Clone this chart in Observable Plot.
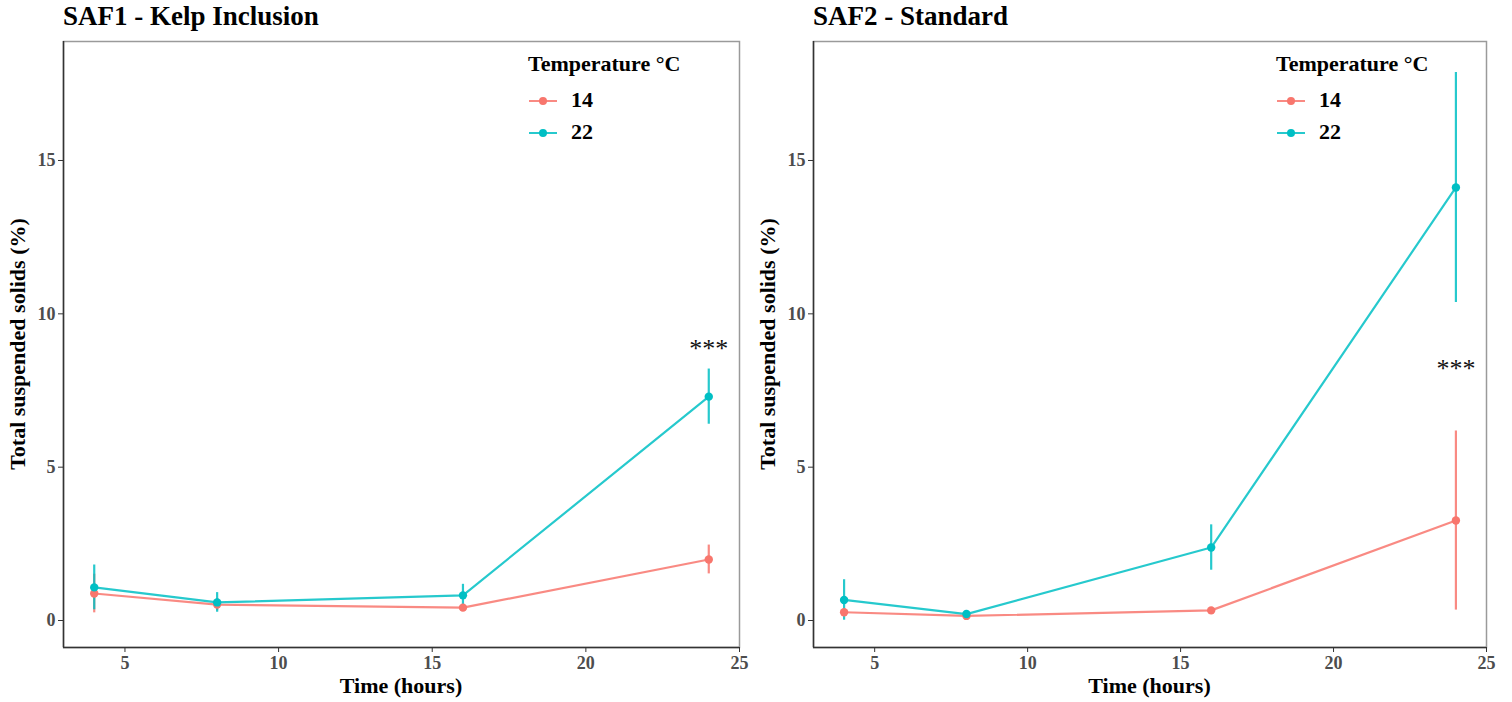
<!DOCTYPE html>
<html>
<head>
<meta charset="utf-8">
<script src="https://cdn.jsdelivr.net/npm/d3@7"></script>
<script src="https://cdn.jsdelivr.net/npm/@observablehq/plot@0.6"></script>
<style>
  body { margin: 0; background: #fff; }
  #root { position: relative; width: 1512px; height: 702px; overflow: hidden; font-family: "Liberation Serif", "DejaVu Serif", serif; }
  .abs { position: absolute; white-space: nowrap; }
  .title { font-size: 27px; font-weight: bold; line-height: 27px; color: #000; }
  .axt { font-size: 22px; font-weight: bold; line-height: 22px; color: #000; }
  .legt { font-size: 22px; font-weight: bold; line-height: 22px; color: #000; }
</style>
</head>
<body>
<div id="root"></div>
<script>
// ---- data ----
const times = [4, 8, 16, 24];
const temps = ["14", "22"];
const tempColors = ["#F8766D", "#00BFC4"];

const saf1Mean14 = [0.88, 0.52, 0.42, 1.99];
const saf1Err14  = [0.63, 0.20, 0.10, 0.47];
const saf1Mean22 = [1.08, 0.59, 0.82, 7.30];
const saf1Err22  = [0.73, 0.32, 0.36, 0.90];

const saf2Mean14 = [0.27, 0.15, 0.33, 3.26];
const saf2Err14  = [0.08, 0.05, 0.08, 2.92];
const saf2Mean22 = [0.67, 0.21, 2.38, 14.12];
const saf2Err22  = [0.66, 0.08, 0.74, 3.75];

const xDomain = [3, 25];
const xTicks = [5, 10, 15, 20, 25];
const yDomain = [-0.88, 18.88];
const yTicks = [0, 5, 10, 15];

const sigLabel = "***";
const saf1Sig = {time: 24, value: 8.85};
const saf2Sig = {time: 24, value: 8.2};

const panelTitles = ["SAF1 - Kelp Inclusion", "SAF2 - Standard"];
const xLabel = "Time (hours)";
const yLabel = "Total suspended solids (%)";
const legendTitle = "Temperature °C";

// ---- build ----
function rows(m14, e14, m22, e22) {
  const out = [];
  times.forEach((t, i) => {
    out.push({time: t, temp: "14", mean: m14[i], lo: m14[i] - e14[i], hi: m14[i] + e14[i]});
  });
  times.forEach((t, i) => {
    out.push({time: t, temp: "22", mean: m22[i], lo: m22[i] - e22[i], hi: m22[i] + e22[i]});
  });
  return out;
}

const root = document.getElementById("root");

function addDiv(cls, text, left, top, extra) {
  const d = document.createElement("div");
  d.className = "abs " + cls;
  d.textContent = text;
  d.style.left = left + "px";
  d.style.top = top + "px";
  if (extra) Object.assign(d.style, extra);
  root.appendChild(d);
  return d;
}

function legendKey(color, left, cy) {
  const ns = "http://www.w3.org/2000/svg";
  const s = document.createElementNS(ns, "svg");
  s.setAttribute("width", 28); s.setAttribute("height", 12);
  s.style.position = "absolute"; s.style.left = left + "px"; s.style.top = (cy - 6) + "px";
  const l = document.createElementNS(ns, "line");
  l.setAttribute("x1", 0); l.setAttribute("x2", 28); l.setAttribute("y1", 6); l.setAttribute("y2", 6);
  l.setAttribute("stroke", color); l.setAttribute("stroke-width", 2); l.setAttribute("stroke-opacity", 0.85);
  const c = document.createElementNS(ns, "circle");
  c.setAttribute("cx", 14); c.setAttribute("cy", 6); c.setAttribute("r", 4); c.setAttribute("fill", color);
  s.appendChild(l); s.appendChild(c);
  root.appendChild(s);
}

function panel(offset, ml, mr, data, sig, title) {
  const chart = Plot.plot({
    width: 756, height: 666,
    marginTop: 5, marginBottom: 55, marginLeft: ml, marginRight: mr,
    style: {fontFamily: "Liberation Serif, serif", fontSize: "18px", background: "transparent", overflow: "visible"},
    x: {domain: xDomain},
    y: {domain: yDomain},
    color: {domain: temps, range: tempColors},
    marks: [
      Plot.frame({stroke: "#9a9a9a", strokeWidth: 1.5}),
      Plot.ruleX([xDomain[0]], {stroke: "#333", strokeWidth: 1.5}),
      Plot.ruleY([yDomain[0]], {stroke: "#333", strokeWidth: 1.5}),
      Plot.axisX({ticks: xTicks, tickSize: 5, tickPadding: 4, fontSize: 18, fontWeight: "bold", fill: "#4d4d4d", stroke: "#333", label: null}),
      Plot.axisY({ticks: yTicks, tickSize: 5, tickPadding: 3, fontSize: 18, fontWeight: "bold", fill: "#4d4d4d", stroke: "#333", label: null}),
      Plot.ruleX(data, {x: "time", y1: "lo", y2: "hi", stroke: "temp", strokeWidth: 2.2, strokeOpacity: 0.85}),
      Plot.line(data, {x: "time", y: "mean", z: "temp", stroke: "temp", strokeWidth: 2.2, strokeOpacity: 0.85}),
      Plot.dot(data, {x: "time", y: "mean", fill: "temp", r: 4.2}),
      Plot.text([sig], {x: "time", y: "value", text: () => sigLabel, fontSize: 26, fill: "#111", lineAnchor: "middle"})
    ]
  });
  d3.select(chart).selectAll("text")
    .filter(function() { return this.textContent !== sigLabel; })
    .attr("font-size", 18)
    .style("font-size", "18px")
    .style("font-weight", "bold")
    .style("font-family", "Liberation Serif, serif");
  chart.style.position = "absolute";
  chart.style.left = offset + "px";
  chart.style.top = "36px";
  root.appendChild(chart);

  const fl = offset + ml, fr = offset + 756 - mr;
  addDiv("title", title, fl, 3);
  addDiv("axt", xLabel, (fl + fr) / 2, 675, {transform: "translateX(-50%)"});
  addDiv("axt", yLabel, fl - 45, 344, {transform: "translate(-50%, -50%) rotate(-90deg)", transformOrigin: "center"});
}

panel(0, 63, 17, rows(saf1Mean14, saf1Err14, saf1Mean22, saf1Err22), saf1Sig, panelTitles[0]);
panel(756, 57, 26, rows(saf2Mean14, saf2Err14, saf2Mean22, saf2Err22), saf2Sig, panelTitles[1]);

// legends
[0, 748].forEach(dx => {
  addDiv("legt", legendTitle, 528 + dx, 53);
  temps.forEach((t, i) => {
    const cy = 101 + i * 32;
    legendKey(tempColors[i], 529 + dx, cy);
    addDiv("legt", t, 571 + dx, cy - 12);
  });
});
</script>
</body>
</html>
